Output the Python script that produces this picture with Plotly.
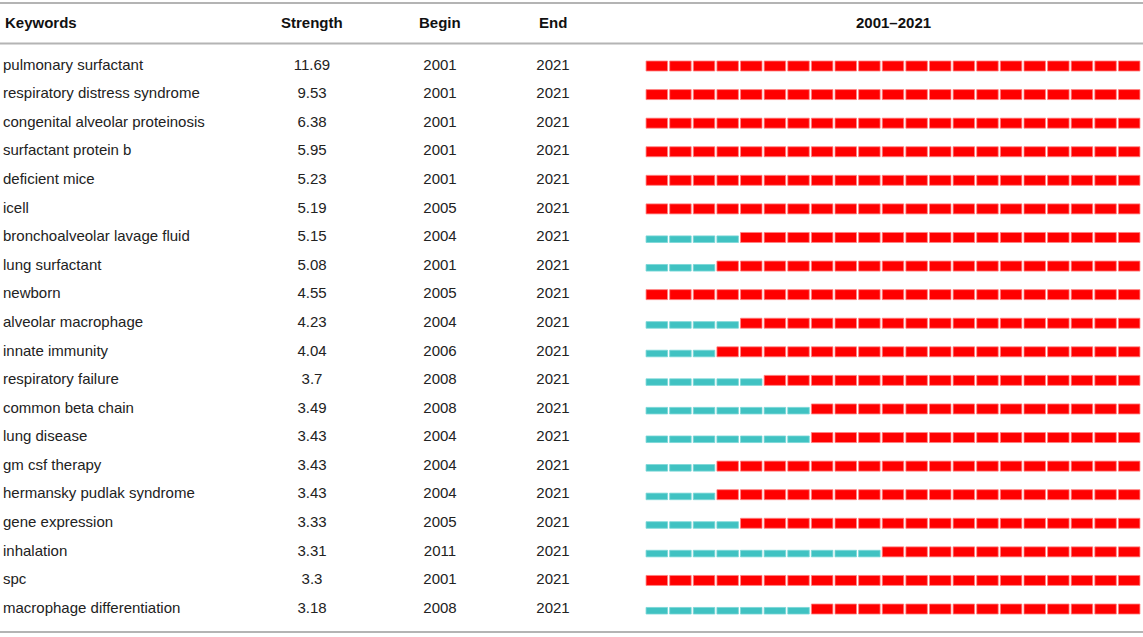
import plotly.graph_objects as go

keywords = ["pulmonary surfactant", "respiratory distress syndrome", "congenital alveolar proteinosis",
            "surfactant protein b", "deficient mice", "icell", "bronchoalveolar lavage fluid",
            "lung surfactant", "newborn", "alveolar macrophage", "innate immunity",
            "respiratory failure", "common beta chain", "lung disease", "gm csf therapy",
            "hermansky pudlak syndrome", "gene expression", "inhalation", "spc",
            "macrophage differentiation"]
strength = ["11.69", "9.53", "6.38", "5.95", "5.23", "5.19", "5.15", "5.08", "4.55", "4.23",
            "4.04", "3.7", "3.49", "3.43", "3.43", "3.43", "3.33", "3.31", "3.3", "3.18"]
begin = [2001, 2001, 2001, 2001, 2001, 2005, 2004, 2001, 2005, 2004,
         2006, 2008, 2008, 2004, 2004, 2004, 2005, 2011, 2001, 2008]
end = [2021] * 20
# first year drawn in red in the timeline (as shown in the picture)
red_from = [2001, 2001, 2001, 2001, 2001, 2001, 2005, 2004, 2001, 2005,
            2004, 2006, 2008, 2008, 2004, 2004, 2005, 2011, 2001, 2008]
years = list(range(2001, 2022))
headers = ["Keywords", "Strength", "Begin", "End", "2001–2021"]

W, H = 1143, 637
ROW0, PITCH = 66.0, 28.58
FONT = "Liberation Sans, Arial, Helvetica, sans-serif"
RED, TEAL = "#FF0000", "#40C2C2"

red_x, red_base, teal_x, teal_base = [], [], [], []
for i, start in enumerate(red_from):
    for yr in years:
        if yr >= start:
            red_x.append(yr); red_base.append(i - 0.175)
        else:
            teal_x.append(yr); teal_base.append(i + 0.175 - 0.23)

fig = go.Figure()
fig.add_trace(go.Bar(x=teal_x, y=[0.23] * len(teal_x), base=teal_base, width=0.91,
                     marker=dict(color=TEAL, line=dict(color="rgba(120,215,215,1)", width=0.8)),
                     xaxis="x2", yaxis="y", showlegend=False, hoverinfo="skip"))
fig.add_trace(go.Bar(x=red_x, y=[0.35] * len(red_x), base=red_base, width=0.91,
                     marker=dict(color=RED, line=dict(color="rgba(255,130,130,1)", width=0.8)),
                     xaxis="x2", yaxis="y", showlegend=False, hoverinfo="skip"))

rows = list(range(len(keywords)))
txt = dict(family=FONT, size=15, color="#222222")
fig.add_trace(go.Scatter(x=[3] * 20, y=rows, mode="text", text=keywords, textposition="middle right",
                         textfont=txt, showlegend=False, hoverinfo="skip"))
fig.add_trace(go.Scatter(x=[312] * 20, y=rows, mode="text", text=strength, textposition="middle center",
                         textfont=txt, showlegend=False, hoverinfo="skip"))
fig.add_trace(go.Scatter(x=[440] * 20, y=rows, mode="text", text=[str(b) for b in begin],
                         textposition="middle center", textfont=txt, showlegend=False, hoverinfo="skip"))
fig.add_trace(go.Scatter(x=[553] * 20, y=rows, mode="text", text=[str(e) for e in end],
                         textposition="middle center", textfont=txt, showlegend=False, hoverinfo="skip"))

hy = (22 - ROW0) / PITCH
hfont = dict(family=FONT, size=15, color="#111111")
ann = [
    dict(x=3, y=hy, xref="x", yref="y", text="<b>%s</b>" % headers[0], showarrow=False, xanchor="left", font=hfont),
    dict(x=312, y=hy, xref="x", yref="y", text="<b>%s</b>" % headers[1], showarrow=False, font=hfont),
    dict(x=440, y=hy, xref="x", yref="y", text="<b>%s</b>" % headers[2], showarrow=False, font=hfont),
    dict(x=553, y=hy, xref="x", yref="y", text="<b>%s</b>" % headers[3], showarrow=False, font=hfont),
    dict(x=(years[0] + years[-1]) / 2, y=hy, xref="x2", yref="y", text="<b>%s</b>" % headers[4],
         showarrow=False, font=hfont),
]

shapes = []
for py in [3, 43.5, 632]:
    shapes.append(dict(type="line", xref="paper", yref="paper", x0=0, x1=1, y0=1 - py / H, y1=1 - py / H,
                       line=dict(color="#B4B4B4", width=2)))

fig.update_layout(
    width=W, height=H, margin=dict(l=0, r=0, t=0, b=0),
    paper_bgcolor="white", plot_bgcolor="rgba(0,0,0,0)", barmode="overlay",
    xaxis=dict(domain=[0, 640 / W], range=[0, 640], visible=False, fixedrange=True),
    xaxis2=dict(domain=[645 / W, 1141 / W], range=[2000.5, 2021.5], visible=False, anchor="y"),
    yaxis=dict(range=[(H - ROW0) / PITCH, -ROW0 / PITCH], visible=False),
    annotations=ann, shapes=shapes,
)
fig.write_html("out.html", config={"displayModeBar": False},
               post_script="document.body.style.margin='0px';document.body.style.overflow='hidden';")
